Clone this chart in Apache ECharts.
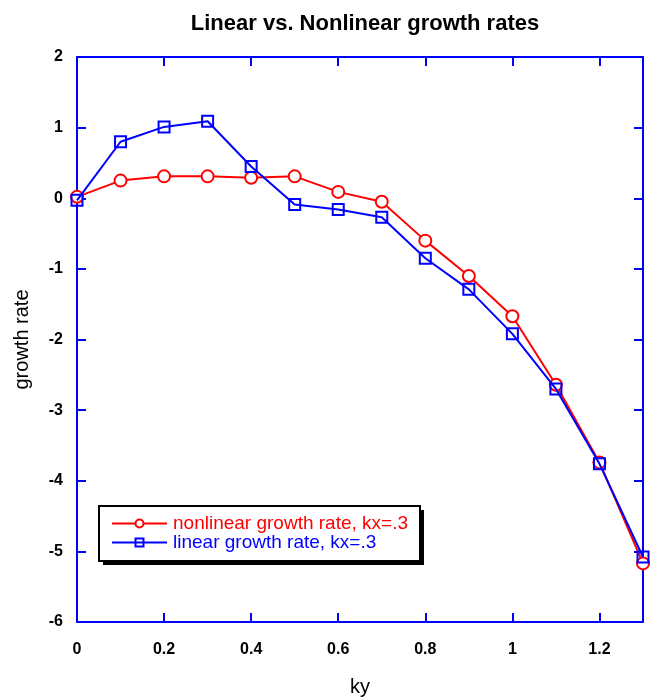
<!DOCTYPE html>
<html><head><meta charset="utf-8">
<script src="https://cdn.jsdelivr.net/npm/echarts@6/dist/echarts.min.js"></script>
<style>html,body{margin:0;padding:0;background:#fff}#c{width:651px;height:698px}</style>
</head><body><div id="c"></div>
<script>
const ky = [0, 0.1, 0.2, 0.3, 0.4, 0.5, 0.6, 0.7, 0.8, 0.9, 1.0, 1.1, 1.2, 1.3];
const nonlinearRate = [0.02, 0.25, 0.31, 0.31, 0.29, 0.31, 0.09, -0.05, -0.60, -1.10, -1.67, -2.64, -3.74, -5.17];
const linearRate = [-0.03, 0.80, 1.01, 1.09, 0.45, -0.09, -0.16, -0.27, -0.85, -1.29, -1.92, -2.70, -3.76, -5.08];
const seriesNames = ['nonlinear growth rate, kx=.3', 'linear growth rate, kx=.3'];
const titleText = 'Linear vs. Nonlinear growth rates';

const chart = echarts.init(document.getElementById('c'), null, {renderer: 'canvas'});
const font = 'Liberation Sans, Arial, Helvetica, sans-serif';
const blue = '#0000ff', red = '#ff0000';
const axisCommon = {
  type: 'value',
  axisLine: {show: true, onZero: false, lineStyle: {color: blue, width: 2}},
  axisTick: {show: true, inside: true, length: 9, lineStyle: {color: blue, width: 2}},
  splitLine: {show: false}
};
const legendBase = {
  orient: 'vertical',
  itemWidth: 55, itemHeight: 10, itemGap: 0,
  padding: [8, 12, 9, 12],
  textStyle: {fontFamily: font, fontSize: 19, lineHeight: 18, padding: [0, 0, 0, 1]}
};
chart.setOption({
  animation: false,
  backgroundColor: '#fff',
  title: {
    text: titleText, left: 360, top: 8, textAlign: 'center',
    textStyle: {fontFamily: font, fontSize: 22, fontWeight: 'bold', color: '#000'}
  },
  grid: {left: 77, right: 8, top: 57, bottom: 76, containLabel: false, outerBoundsMode: 'none'},
  legend: [
    Object.assign({}, legendBase, {
      left: 103, top: 510, z: 4,
      backgroundColor: '#000', borderWidth: 0,
      selectedMode: false,
      data: seriesNames.slice(),
      itemStyle: {opacity: 0}, lineStyle: {opacity: 0},
      textStyle: Object.assign({}, legendBase.textStyle, {color: 'rgba(0,0,0,0)'})
    }),
    Object.assign({}, legendBase, {
      left: 99, top: 506, z: 5,
      backgroundColor: '#fff', borderColor: '#000', borderWidth: 2,
      data: [
        {name: seriesNames[0], textStyle: {color: red}},
        {name: seriesNames[1], textStyle: {color: blue}}
      ]
    })
  ],
  xAxis: [
    Object.assign({}, axisCommon, {
      position: 'bottom', min: 0, max: 1.3, interval: 0.2,
      name: 'ky', nameLocation: 'middle', nameGap: 55,
      nameTextStyle: {fontFamily: font, fontSize: 20, color: '#000'},
      axisLabel: {color: '#000', fontFamily: font, fontSize: 16, fontWeight: 'bold', margin: 20, showMaxLabel: false}
    }),
    Object.assign({}, axisCommon, {
      position: 'top', min: 0, max: 1.3, interval: 0.2,
      axisLabel: {show: false}
    })
  ],
  yAxis: [
    Object.assign({}, axisCommon, {
      position: 'left', min: -6, max: 2, interval: 1,
      name: 'growth rate', nameLocation: 'middle', nameGap: 45,
      nameTextStyle: {fontFamily: font, fontSize: 20, color: '#000'},
      axisLabel: {color: '#000', fontFamily: font, fontSize: 16, fontWeight: 'bold', margin: 14}
    }),
    Object.assign({}, axisCommon, {
      position: 'right', min: -6, max: 2, interval: 1,
      axisLabel: {show: false}
    })
  ],
  series: [
    {
      name: seriesNames[0], type: 'line', xAxisIndex: 0, yAxisIndex: 0,
      data: ky.map((x, i) => [x, nonlinearRate[i]]),
      symbol: 'circle', symbolSize: 12,
      lineStyle: {color: red, width: 2},
      itemStyle: {color: '#fff', borderColor: red, borderWidth: 2},
      z: 2
    },
    {
      name: seriesNames[1], type: 'line', xAxisIndex: 0, yAxisIndex: 0,
      data: ky.map((x, i) => [x, linearRate[i]]),
      symbol: 'rect', symbolSize: 11,
      lineStyle: {color: blue, width: 2},
      itemStyle: {color: 'rgba(255,255,255,0)', borderColor: blue, borderWidth: 2},
      z: 3
    }
  ]
});
</script></body></html>
